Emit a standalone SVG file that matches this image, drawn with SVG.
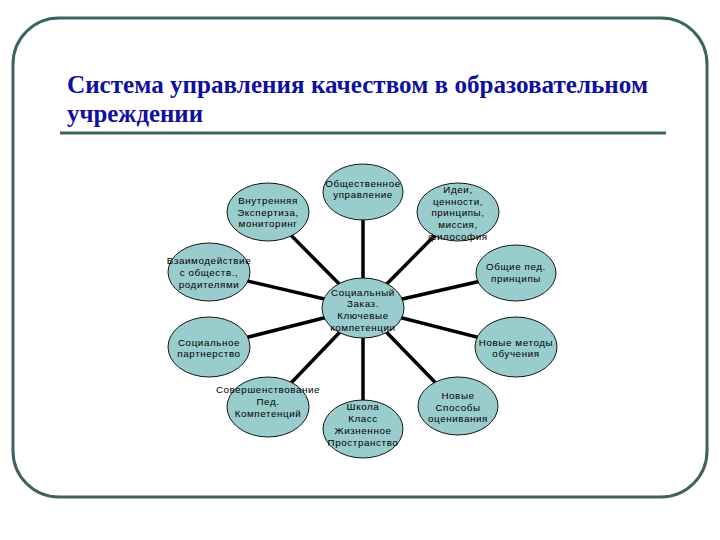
<svg xmlns="http://www.w3.org/2000/svg" width="720" height="540" viewBox="0 0 720 540">
<style>
.frame{fill:none;stroke:#3d6262;stroke-width:3}
.title{font-family:"Liberation Serif","Times New Roman",serif;font-weight:bold;font-size:25px;fill:#10109e}
.node ellipse{fill:#99cccc;stroke:#000;stroke-width:0.9}
.node text{font-family:"Liberation Sans",Arial,sans-serif;font-size:9.8px;fill:#000;text-anchor:middle;letter-spacing:0.6px}
.conn line{stroke:#000;stroke-width:3.5}
</style>
<rect width="720" height="540" fill="#fff"/>
<rect class="frame" x="13" y="18" width="694" height="479" rx="46" ry="46"/>
<text class="title" x="67" y="93" textLength="581" lengthAdjust="spacingAndGlyphs">Система управления качеством в образовательном</text>
<text class="title" x="67" y="122" textLength="136" lengthAdjust="spacingAndGlyphs">учреждении</text>
<line x1="60" y1="133" x2="666" y2="133" stroke="#3d6262" stroke-width="3"/>
<g id="connectors" class="conn">
<line x1="363" y1="308" x2="268" y2="212"/>
<line x1="363" y1="308" x2="209" y2="272"/>
<line x1="363" y1="308" x2="363" y2="192"/>
<line x1="363" y1="308" x2="458" y2="212"/>
<line x1="363" y1="308" x2="516" y2="273"/>
<line x1="363" y1="308" x2="209" y2="347"/>
<line x1="363" y1="308" x2="516" y2="347"/>
<line x1="363" y1="308" x2="268" y2="407"/>
<line x1="363" y1="308" x2="363" y2="429"/>
<line x1="363" y1="308" x2="458" y2="406"/>
</g>
<g id="n-vnutr" class="node"><ellipse cx="268" cy="212" rx="41" ry="29"/>
<text x="268" y="204">Внутренняя</text><text x="268" y="216">Экспертиза,</text><text x="268" y="227">мониторинг</text></g>
<g id="n-vzaim" class="node"><ellipse cx="209" cy="272" rx="41" ry="29"/>
<text x="209" y="264">Взаимодействие</text><text x="209" y="276">с обществ.,</text><text x="209" y="288">родителями</text></g>
<g id="n-obsch" class="node"><ellipse cx="363" cy="192" rx="40" ry="28"/>
<text x="363" y="187">Общественное</text><text x="363" y="198">управление</text></g>
<g id="n-idei" class="node"><ellipse cx="458" cy="212" rx="41" ry="29"/>
<text x="458" y="193">Идеи,</text><text x="458" y="205">ценности,</text><text x="458" y="216">принципы,</text><text x="458" y="228">миссия,</text><text x="458" y="240">философия</text></g>
<g id="n-obshped" class="node"><ellipse cx="516" cy="273" rx="40" ry="28"/>
<text x="516" y="270">Общие пед.</text><text x="516" y="282">принципы</text></g>
<g id="n-center" class="node"><ellipse cx="363" cy="308" rx="41" ry="30"/>
<text x="363" y="296">Социальный</text><text x="363" y="307">Заказ.</text><text x="363" y="319">Ключевые</text><text x="363" y="331">компетенции</text></g>
<g id="n-partn" class="node"><ellipse cx="209" cy="347" rx="41" ry="30"/>
<text x="209" y="346">Социальное</text><text x="209" y="357">партнерство</text></g>
<g id="n-metody" class="node"><ellipse cx="516" cy="347" rx="41" ry="30"/>
<text x="516" y="346">Новые методы</text><text x="516" y="357">обучения</text></g>
<g id="n-sover" class="node"><ellipse cx="268" cy="407" rx="41" ry="30"/>
<text x="268" y="393">Совершенствование</text><text x="268" y="405">Пед.</text><text x="268" y="417">Компетенций</text></g>
<g id="n-shkola" class="node"><ellipse cx="363" cy="429" rx="40" ry="29"/>
<text x="363" y="410">Школа</text><text x="363" y="422">Класс</text><text x="363" y="434">Жизненное</text><text x="363" y="446">Пространство</text></g>
<g id="n-sposoby" class="node"><ellipse cx="458" cy="406" rx="40" ry="29"/>
<text x="458" y="399">Новые</text><text x="458" y="411">Способы</text><text x="458" y="422">оценивания</text></g>
</svg>
